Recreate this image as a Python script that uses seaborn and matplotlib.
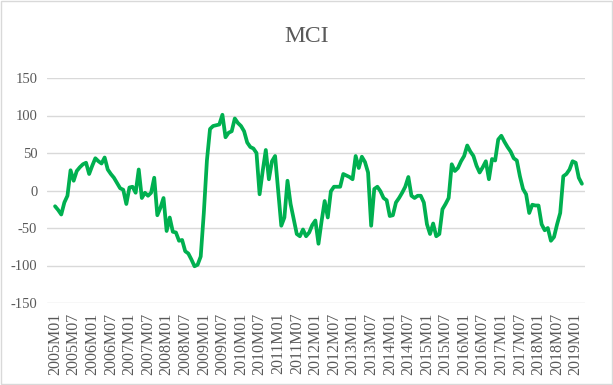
import matplotlib
matplotlib.use("Agg")
import matplotlib.pyplot as plt
import seaborn as sns
import pandas as pd
from matplotlib.patches import Rectangle

# Monthly MCI values, 2005M01 .. 2019M03
mci = [-21, -26, -32, -16, -7, 27, 13, 26, 31, 35, 37, 22,
       33, 43, 39, 36, 44, 28, 22, 17, 10, 3, 1, -18,
       4, 5, -3, 28, -10, -3, -7, -3, 17, -33, -23, -10,
       -54, -36, -55, -56, -67, -66, -81, -84, -92, -101, -99, -88,
       -30, 40, 82, 86, 87, 88, 101, 71, 77, 79, 96, 90,
       86, 79, 64, 58, 56, 50, -5, 26, 54, 15, 39, 46,
       0, -47, -36, 13, -18, -38, -58, -61, -52, -61, -56, -46,
       -40, -71, -41, -14, -36, -1, 5, 5, 5, 22, 20, 18,
       15, 46, 30, 45, 38, 24, -47, 2, 5, -1, -10, -13,
       -34, -33, -16, -10, -3, 5, 18, -7, -10, -7, -7, -16,
       -45, -58, -44, -61, -58, -25, -18, -10, 35, 26, 30, 39,
       46, 60, 52, 46, 33, 24, 31, 39, 15, 42, 40, 68,
       73, 65, 58, 52, 43, 40, 19, 2, -5, -30, -19, -20,
       -20, -45, -53, -50, -67, -62, -45, -30, 19, 22, 28, 39,
       37, 17, 9]

months = [f"{2005 + i // 12}M{i % 12 + 1:02d}" for i in range(len(mci))]
tick_labels = months[::6]
y_ticks = [-150, -100, -50, 0, 50, 100, 150]

df = pd.DataFrame({"idx": range(len(mci)), "month": months, "MCI": mci})

sns.set_theme(style="white")
plt.rcParams["font.family"] = ["Liberation Serif", "DejaVu Serif"]

fig = plt.figure(figsize=(6.13, 3.85), dpi=100)
ax = fig.add_axes([47 / 613, 1 - 303 / 385, (585 - 47) / 613, (303 - 78) / 385])

sns.lineplot(data=df, x="idx", y="MCI", ax=ax, color="#00B050", linewidth=2.7)

ax.set_xlim(-2.6, 171.0)
ax.set_ylim(-150, 150)
ax.set_yticks(y_ticks)
ax.set_yticklabels([str(v) for v in y_ticks], fontsize=10.5, color="#595959")
ax.set_xticks(list(range(0, len(mci), 6)))
ax.set_xticklabels(tick_labels, rotation=90, fontsize=11.5, color="#595959")
ax.tick_params(axis="both", length=0)
ax.tick_params(axis="y", pad=7)
ax.tick_params(axis="x", pad=7)
ax.grid(axis="y", color="#D9D9D9", linewidth=1.0)
ax.set_axisbelow(True)
for s in ax.spines.values():
    s.set_visible(False)
ax.set_xlabel("")
ax.set_ylabel("")

fig.text(0.5, 1 - 36 / 385, "MCI", ha="center", va="center", fontsize=17, color="#595959")

fig.patches.append(Rectangle((0.001, 0.002), 0.997, 0.995, transform=fig.transFigure,
                             fill=False, edgecolor="#D9D9D9", linewidth=1.0))

fig.savefig("out.png", dpi=100)
